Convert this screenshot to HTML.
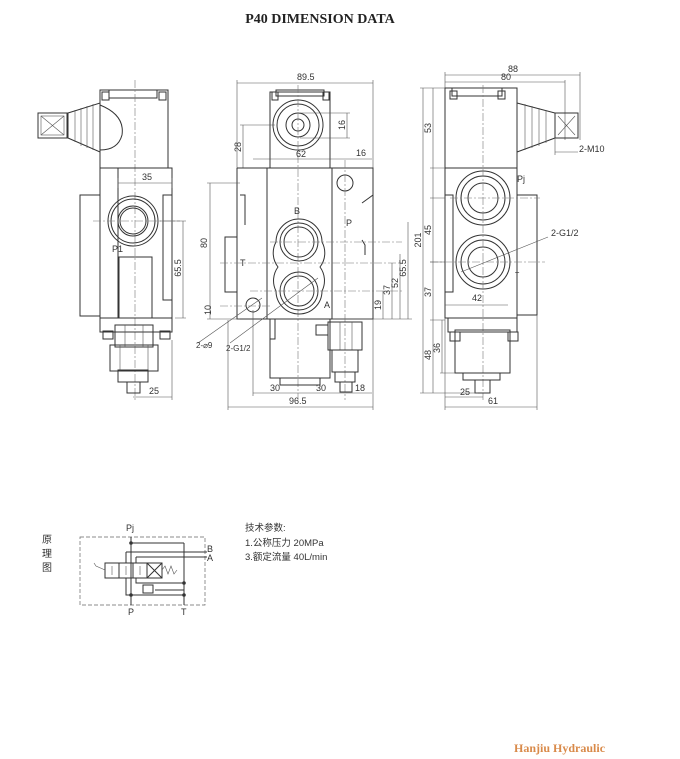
<!DOCTYPE html>
<html><head><meta charset="utf-8"><style>
html,body{margin:0;padding:0;background:#fff;}
svg{display:block;}
.l{stroke:#333;stroke-width:1;fill:none;}
.t{stroke:#555;stroke-width:0.6;fill:none;}
.c{stroke:#777;stroke-width:0.6;fill:none;stroke-dasharray:8 2 2 2;}
text{font-family:"Liberation Sans",sans-serif;font-size:9px;fill:#333;}
.cj{font-family:"Liberation Sans","Noto Sans CJK SC",sans-serif;}
</style></head><body>
<svg width="680" height="759" viewBox="0 0 680 759" xmlns="http://www.w3.org/2000/svg">
<text x="320" y="23" text-anchor="middle" style="font-family:'Liberation Serif',serif;font-weight:bold;font-size:14px;fill:#222">P40 DIMENSION DATA</text>

<!-- LEFT VIEW -->
<g>
<rect class="l" x="100" y="90" width="68" height="78"/>
<rect class="l" x="109" y="90" width="48" height="8"/>
<rect class="l" x="102" y="92" width="7" height="8"/><rect class="l" x="159" y="92" width="7" height="8"/>
<path class="l" d="M100 105 Q125 115 122 135 Q118 150 100 150"/>
<path class="l" d="M68 113 L100 103 L100 152 L68 138 Z"/>
<path class="t" d="M75 110 V142 M81 108 V146 M87 106 V148 M93 104 V150"/>
<rect class="l" x="38" y="113" width="29" height="25"/>
<rect class="t" x="41" y="116" width="23" height="19"/>
<path class="t" d="M41 116 L64 135 M64 116 L41 135"/>
<line class="c" x1="135" y1="80" x2="135" y2="400"/>
<rect class="l" x="100" y="168" width="72" height="150"/>
<line class="l" x1="118" y1="168" x2="118" y2="318"/>
<rect class="l" x="163" y="195" width="9" height="105"/>
<rect class="l" x="80" y="195" width="20" height="121"/>
<circle class="l" cx="133" cy="221" r="25"/><circle class="l" cx="133" cy="221" r="22"/>
<circle class="l" cx="133" cy="221" r="15"/><circle class="l" cx="133" cy="221" r="13"/>
<line class="c" x1="93" y1="221" x2="180" y2="221"/>
<text x="112" y="252">P1</text>
<rect class="l" x="119" y="257" width="33" height="61"/>
<rect class="l" x="100" y="318" width="72" height="14"/>
<rect class="l" x="103" y="331" width="10" height="8"/><rect class="l" x="160" y="331" width="10" height="8"/>
<rect class="l" x="115" y="325" width="38" height="22"/>
<path class="t" d="M125 325 V347 M143 325 V347"/>
<rect class="l" x="110" y="345" width="48" height="26"/>
<path class="t" d="M120 345 V371 M148 345 V371"/>
<rect class="l" x="118" y="370" width="30" height="12"/>
<rect class="l" x="127" y="382" width="13" height="11"/>
<path class="t" d="M118 183 H172 M118 178 V188 M172 178 V188"/><text x="142" y="180">35</text>
<path class="t" d="M183 221 V318 M160 221 H186 M175 318 H186"/>
<text transform="translate(181,268) rotate(-90)" text-anchor="middle">65.5</text>
<path class="t" d="M133 397 H172 M172 340 V400"/><text x="149" y="394">25</text>
</g>

<!-- MIDDLE VIEW -->
<g>
<path class="t" d="M237 83 H373 M237 80 V168 M373 80 V300"/><text x="297" y="80">89.5</text>
<rect class="l" x="270" y="92" width="60" height="76"/>
<rect class="l" x="276" y="90" width="48" height="6"/>
<rect class="l" x="272" y="92" width="6" height="8"/><rect class="l" x="323" y="92" width="6" height="8"/>
<circle class="l" cx="298" cy="125" r="25"/><circle class="l" cx="298" cy="125" r="21"/>
<circle class="l" cx="298" cy="125" r="12"/><circle class="l" cx="298" cy="125" r="6"/>
<line class="c" x1="298" y1="85" x2="298" y2="400"/>
<path class="t" d="M347 113 V138 M300 113 H350 M300 138 H350"/>
<text transform="translate(345,125) rotate(-90)" text-anchor="middle">16</text>
<path class="t" d="M243 125 V168 M240 125 H275"/>
<text transform="translate(241,147) rotate(-90)" text-anchor="middle">28</text>
<path class="t" d="M253 159 H372"/><text x="296" y="157">62</text><text x="356" y="156">16</text>
<rect class="l" x="267" y="168" width="65" height="151"/>
<path class="l" d="M237 168 H267 M237 168 V319 H267 M332 168 H373 V195 L362 203 M373 195 V319 H332"/>
<rect class="l" x="225" y="237" width="12" height="55"/>
<path class="l" d="M240 195 H245 V225"/>
<circle class="l" cx="345" cy="183" r="8"/>
<line class="c" x1="345" y1="160" x2="345" y2="400"/>
<path class="l" d="M276 242 A23 23 0 0 1 322 242 A23 23 0 0 1 320 267 A23 23 0 0 1 322 291 A23 23 0 0 1 276 291 A23 23 0 0 1 278 267 A23 23 0 0 1 276 242 Z"/>
<circle class="l" cx="299" cy="242" r="19"/><circle class="l" cx="299" cy="242" r="15"/>
<circle class="l" cx="299" cy="291" r="19"/><circle class="l" cx="299" cy="291" r="15"/>
<path class="c" d="M270 242 H402 M220 263 H402 M250 291 H402 M220 306 H270"/>
<text x="294" y="214">B</text><text x="346" y="226">P</text><text x="240" y="266">T</text><text x="324" y="308">A</text>
<path class="l" d="M362 240 L365 245 V255"/>
<circle class="l" cx="253" cy="305" r="7"/>
<path class="t" d="M198 343 L262 298 M230 343 L318 278"/>
<text x="196" y="348" style="font-size:8px">2-⌀9</text>
<text x="226" y="351" style="font-size:8px">2-G1/2</text>
<rect class="l" x="270" y="319" width="60" height="59"/>
<rect class="l" x="280" y="378" width="40" height="7"/>
<rect class="l" x="270" y="319" width="5" height="20"/>
<rect class="l" x="316" y="325" width="12" height="10"/>
<rect class="l" x="328" y="322" width="34" height="28"/>
<path class="t" d="M340 322 V350 M352 322 V350"/>
<rect class="l" x="332" y="350" width="26" height="22"/>
<rect class="l" x="335" y="372" width="20" height="10"/>
<rect class="l" x="340" y="382" width="12" height="10"/>
<path class="t" d="M210 183 V319 M207 183 H240 M207 319 H240"/>
<text transform="translate(207,243) rotate(-90)" text-anchor="middle">80</text>
<text transform="translate(211,310) rotate(-90)" text-anchor="middle">10</text>
<path class="t" d="M383 291 V319 M392 263 V319 M400 254 V319 M408 222 V319 M332 319 H412"/>
<text transform="translate(381,305) rotate(-90)" text-anchor="middle">19</text>
<text transform="translate(390,290) rotate(-90)" text-anchor="middle">37</text>
<text transform="translate(398,283) rotate(-90)" text-anchor="middle">52</text>
<text transform="translate(406,268) rotate(-90)" text-anchor="middle">65.5</text>
<path class="t" d="M253 393 H372 M253 310 V396 M228 320 V410 M373 319 V410"/>
<text x="270" y="391">30</text><text x="316" y="391">30</text><text x="355" y="391">18</text>
<path class="t" d="M228 407 H373"/><text x="289" y="404">96.5</text>
</g>

<!-- RIGHT VIEW -->
<g>
<path class="t" d="M445 75 H580 M445 82 H565 M445 72 V168 M580 72 V140 M565 80 V140"/>
<text x="508" y="72">88</text><text x="501" y="80">80</text>
<rect class="l" x="445" y="88" width="72" height="80"/>
<rect class="l" x="452" y="88" width="50" height="8"/>
<rect class="l" x="450" y="91" width="7" height="8"/><rect class="l" x="498" y="91" width="7" height="8"/>
<path class="l" d="M517 103 L555 113 L555 138 L517 152"/>
<path class="t" d="M525 104 V150 M532 106 V148 M539 108 V146 M546 110 V143"/>
<rect class="l" x="555" y="113" width="23" height="25"/>
<path class="t" d="M558 116 L575 135 M575 116 L558 135 M555 152 H578 M555 138 V155"/>
<text x="579" y="152">2-M10</text>
<rect class="l" x="445" y="168" width="72" height="150"/>
<path class="l" d="M445 195 H453 V292 H445"/>
<rect class="l" x="517" y="195" width="20" height="120"/>
<circle class="l" cx="483" cy="198" r="27"/><circle class="l" cx="483" cy="198" r="22"/><circle class="l" cx="483" cy="198" r="15"/>
<circle class="l" cx="483" cy="262" r="27"/><circle class="l" cx="483" cy="262" r="22"/><circle class="l" cx="483" cy="262" r="15"/>
<path class="c" d="M483 85 V400 M450 198 H540 M430 262 H545"/>
<text x="517" y="182">Pj</text>
<text x="515" y="277" style="font-size:7px">T</text>
<text x="551" y="236">2-G1/2</text>
<path class="t" d="M548 237 L461 272"/>
<path class="t" d="M445 305 H508"/><text x="472" y="301">42</text>
<rect class="l" x="448" y="318" width="69" height="14"/>
<rect class="l" x="450" y="332" width="10" height="9"/><rect class="l" x="508" y="332" width="10" height="9"/>
<rect class="l" x="455" y="330" width="55" height="43"/>
<rect class="l" x="463" y="373" width="37" height="7"/>
<rect class="l" x="475" y="380" width="15" height="13"/>
<path class="t" d="M423 88 V393 M420 88 H445 M420 393 H478 M433 88 V393 M430 168 H445 M430 198 H445 M430 262 H445 M430 320 H445 M442 320 V373 M440 373 H455"/>
<text transform="translate(421,240) rotate(-90)" text-anchor="middle">201</text>
<text transform="translate(431,128) rotate(-90)" text-anchor="middle">53</text>
<text transform="translate(431,230) rotate(-90)" text-anchor="middle">45</text>
<text transform="translate(431,292) rotate(-90)" text-anchor="middle">37</text>
<text transform="translate(431,355) rotate(-90)" text-anchor="middle">48</text>
<text transform="translate(440,348) rotate(-90)" text-anchor="middle">36</text>
<path class="t" d="M445 397 H483 M445 318 V410 M537 315 V410 M445 407 H537"/>
<text x="460" y="395">25</text><text x="488" y="404">61</text>
</g>

<!-- SCHEMATIC -->
<g>
<text class="cj" x="42" y="543" style="font-size:10px">原</text>
<text class="cj" x="42" y="557" style="font-size:10px">理</text>
<text class="cj" x="42" y="571" style="font-size:10px">图</text>
<text x="126" y="531">Pj</text>
<rect x="80" y="537" width="125" height="68" style="fill:none;stroke:#666;stroke-width:0.7;stroke-dasharray:4 2"/>
<path class="l" d="M131 537 V605 M184 543 V605 M131 543 H184 M126 552 H207 M136 557 H207 M136 557 V563 M126 552 V563 M136 578 V583 H184 M126 578 V595 H184 M131 595 H141 M155 590 H184"/>
<rect class="l" x="105" y="563" width="57" height="15"/>
<path class="l" d="M119 563 V578 M133 563 V578 M147 563 V578 M147 563 L162 578 M162 563 L147 578"/>
<path class="t" d="M112 566 V575 M126 566 V575 M140 566 V575 M162 570 l3 -4 3 8 3 -8 3 8 3 -4"/>
<path class="t" d="M105 570 L96 566 L94 563"/>
<rect class="l" x="143" y="585" width="10" height="8"/>
<circle cx="131" cy="543" r="1.8" fill="#333"/><circle cx="131" cy="595" r="1.8" fill="#333"/>
<circle cx="184" cy="583" r="1.8" fill="#333"/><circle cx="184" cy="595" r="1.8" fill="#333"/>
<text x="207" y="552">B</text><text x="207" y="561">A</text>
<text x="128" y="615">P</text><text x="181" y="615">T</text>
<text class="cj" x="245" y="531" style="font-size:9.5px">技术参数:</text>
<text class="cj" x="245" y="546" style="font-size:9.5px">1.公称压力  20MPa</text>
<text class="cj" x="245" y="560" style="font-size:9.5px">3.额定流量  40L/min</text>
</g>

<text x="514" y="752" style="font-family:'Liberation Serif',serif;font-weight:bold;font-size:12px;fill:#d98a4a">Hanjiu Hydraulic</text>
</svg>
</body></html>
